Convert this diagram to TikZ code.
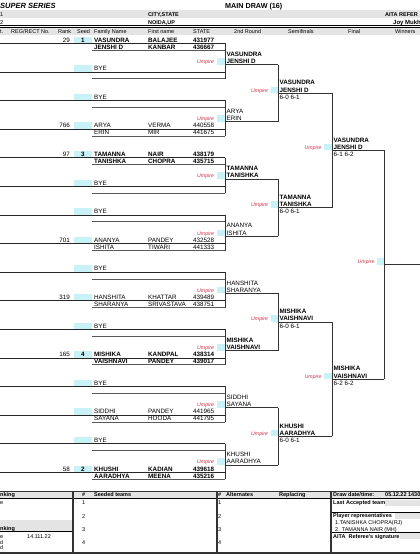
\documentclass[tikz,border=0pt]{standalone}
\usepackage{fontspec}
\setmainfont{Liberation Sans}
\definecolor{umpred}{RGB}{205,45,70}
\definecolor{seedcyan}{RGB}{200,242,246}
\definecolor{bandgrey}{RGB}{228,228,228}

\begin{document}
\begin{tikzpicture}[x=1pt, y=-1pt,
  declare function={yb(\k)=43.2+7.15*\k; tb(\k)=42.0+7.15*\k;},
  txt/.style={anchor=base west, inner sep=0pt, font=\fontsize{6.3}{7}\selectfont},
  hd/.style={anchor=base west, inner sep=0pt, font=\fontsize{5.5}{6}\selectfont},
  hdb/.style={hd, font=\fontsize{5.5}{6}\selectfont\bfseries},
  ump/.style={anchor=base west, inner sep=0pt, text=umpred, font=\fontsize{5.2}{6}\selectfont\itshape},
  rowline/.style={line width=0.6pt, black!85},
  rowlinetwo/.style={line width=1pt, black!65},
  brk/.style={line width=0.8pt, black!80},
  frame/.style={line width=1.2pt, black!80},
  seedbox/.style={fill=seedcyan},
  band/.style={fill=bandgrey}]
\useasboundingbox (0,0) rectangle (420,560);

% heading
\fill[band] (0,10) rectangle (420,18);
\fill[band] (0,28) rectangle (420,34.5);
\draw[line width=0.7pt] (0,25.6) -- (420,25.6);
\draw[line width=0.7pt] (0,27.1) -- (420,27.1);
\node[anchor=base west, inner sep=0pt, font=\fontsize{7.5}{8}\selectfont\bfseries\itshape] (title) at (0,8.3) {SUPER SERIES};
\node[anchor=base west, inner sep=0pt, font=\fontsize{7.2}{8}\selectfont\bfseries] (maindraw) at (225,8.3) {MAIN DRAW (16)};
\node[hd] (one) at (0,16.3) {1};
\node[hdb] (city) at (148,16.3) {CITY,STATE};
\node[hdb] (aita) at (385,16.3) {AITA REFER};
\node[hd] (two) at (0,24) {2};
\node[hdb] (noida) at (148,24) {NOIDA,UP};
\node[txt, font=\fontsize{6}{7}\selectfont\bfseries] (referee) at (393,24.6) {Joy Mukh};
\foreach \x/\h [count=\i] in {0/t., 11/{REG/RECT No.}, 58/Rank, 77/Seed, 94/Family Name,
    148/First name, 193/STATE, 234/2nd Round, 288/Semifinals, 348/Final, 395/Winners}
  \node[hd] (col\i) at (\x,33.2) {\h};

% first round slots
\foreach \s in {0,...,15} {
  \fill[seedbox] (74,{yb(4*\s)-6.6}) rectangle (92,{yb(4*\s)});
  \draw[rowline] (0,{yb(4*\s)}) -- (225,{yb(4*\s)});
  \draw[rowlinetwo] (92,{yb(4*\s+1)}) -- (225,{yb(4*\s+1)});
}
\foreach \s/\rk/\sd/\fa/\na/\sa/\fb/\nb/\sb/\wt in {
    0/29/1/VASUNDRA/BALAJEE/431977/JENSHI D/KANBAR/436667/\bfseries,
    3/766//ARYA/VERMA/440558/ERIN/MIR/441675/\mdseries,
    4/97/3/TAMANNA/NAIR/438179/TANISHKA/CHOPRA/435715/\bfseries,
    7/701//ANANYA/PANDEY/432528/ISHITA/TIWARI/441333/\mdseries,
    9/319//HANSHITA/KHATTAR/439489/SHARANYA/SRIVASTAVA/438751/\mdseries,
    11/165/4/MISHIKA/KANDPAL/438314/VAISHNAVI/PANDEY/439017/\bfseries,
    13///SIDDHI/PANDEY/441965/SAYANA/HOODA/441795/\mdseries,
    15/58/2/KHUSHI/KADIAN/439618/AARADHYA/MEENA/435216/\bfseries} {
  \node[txt, anchor=base east] (rank\s) at (70,{tb(4*\s)}) {\rk};
  \node[txt, anchor=base, font=\fontsize{6.3}{7}\selectfont\bfseries] (seed\s) at (83,{tb(4*\s)}) {\sd};
  \node[txt] (fama\s) at (94,{tb(4*\s)}) {\wt \fa};
  \node[txt] (firsta\s) at (148,{tb(4*\s)}) {\wt \na};
  \node[txt] (statea\s) at (193,{tb(4*\s)}) {\wt \sa};
  \node[txt] (famb\s) at (94,{tb(4*\s+1)}) {\wt \fb};
  \node[txt] (firstb\s) at (148,{tb(4*\s+1)}) {\wt \nb};
  \node[txt] (stateb\s) at (193,{tb(4*\s+1)}) {\wt \sb};
}
\foreach \s in {1,2,5,6,8,10,12,14}
  \node[txt] (bye\s) at (94,{tb(4*\s)}) {BYE};

% 2nd round
\foreach \m/\pa/\pb/\wt in {0/VASUNDRA/JENSHI D/\bfseries, 1/ARYA/ERIN/\mdseries,
    2/TAMANNA/TANISHKA/\bfseries, 3/ANANYA/ISHITA/\mdseries, 4/HANSHITA/SHARANYA/\mdseries,
    5/MISHIKA/VAISHNAVI/\bfseries, 6/SIDDHI/SAYANA/\mdseries, 7/KHUSHI/AARADHYA/\mdseries} {
  \draw[brk] (225,{yb(8*\m)}) -- (225,{yb(8*\m+5)});
  \draw[brk] (225,{yb(8*\m+3)}) -- (278,{yb(8*\m+3)});
  \fill[seedbox] (217,{yb(8*\m+3)-6.6}) rectangle (224.5,{yb(8*\m+3)});
  \node[ump] (umpa\m) at (197,{tb(8*\m+3)}) {Umpire};
  \node[txt] (secona\m) at (226.5,{tb(8*\m+2)}) {\wt \pa};
  \node[txt] (seconb\m) at (226.5,{tb(8*\m+3)}) {\wt \pb};
}

% semifinals
\foreach \q/\pa/\pb in {0/VASUNDRA/JENSHI D, 1/TAMANNA/TANISHKA, 2/MISHIKA/VAISHNAVI, 3/KHUSHI/AARADHYA} {
  \draw[brk] (278,{yb(16*\q+3)}) -- (278,{yb(16*\q+11)});
  \draw[brk] (278,{yb(16*\q+7)}) -- (332,{yb(16*\q+7)});
  \fill[seedbox] (270.5,{yb(16*\q+7)-6.6}) rectangle (277.5,{yb(16*\q+7)});
  \node[ump] (umpb\q) at (251,{tb(16*\q+7)}) {Umpire};
  \node[txt] (semia\q) at (279.5,{tb(16*\q+6)}) {\bfseries \pa};
  \node[txt] (semib\q) at (279.5,{tb(16*\q+7)}) {\bfseries \pb};
  \node[txt] (semis\q) at (279.5,{tb(16*\q+8)}) {6-0 6-1};
}

% final
\foreach \f/\pa/\pb/\sc in {0/VASUNDRA/JENSHI D/6-1 6-2, 1/MISHIKA/VAISHNAVI/6-2 6-2} {
  \draw[brk] (332,{yb(32*\f+7)}) -- (332,{yb(32*\f+23)});
  \draw[brk] (332,{yb(32*\f+15)}) -- (384,{yb(32*\f+15)});
  \fill[seedbox] (323.5,{yb(32*\f+15)-6.6}) rectangle (331.5,{yb(32*\f+15)});
  \node[ump] (umpc\f) at (304.5,{tb(32*\f+15)}) {Umpire};
  \node[txt] (finala\f) at (333.5,{tb(32*\f+14)}) {\bfseries \pa};
  \node[txt] (finalb\f) at (333.5,{tb(32*\f+15)}) {\bfseries \pb};
  \node[txt] (finals\f) at (333.5,{tb(32*\f+16)}) {\sc};
}

% winners
\draw[brk] (384,{yb(15)}) -- (384,{yb(47)});
\draw[brk] (384,{yb(31)}) -- (420,{yb(31)});
\fill[seedbox] (376.5,{yb(31)-6.6}) rectangle (383.5,{yb(31)});
\node[ump] (umpd) at (357.5,{tb(31)}) {Umpire};

% lower table
\fill[band] (0,491.5) rectangle (420,498.5);
\fill[band] (0,519.5) rectangle (72,531.5);
\fill[band] (385,499.5) rectangle (420,505.5);
\fill[band] (395,513) rectangle (420,519);
\fill[band] (400,533) rectangle (420,539);
\draw[line width=0.6pt] (0,498.5) -- (420,498.5);
\draw[line width=0.4pt] (0,531.5) -- (72,531.5);
\draw[line width=0.6pt] (331,512) -- (420,512);
\draw[line width=0.6pt] (331,532.5) -- (420,532.5);
\draw[frame] (0,491.5) -- (420,491.5);
\draw[frame] (0,553) -- (420,553);
\foreach \x in {73,217,331}
  \draw[frame] (\x,491.5) -- (\x,553);
\node[hdb] (rankhd) at (0,496.8) {nking};
\node[hd] (rankone) at (0,504.3) {e};
\node[hdb] (rankhdtwo) at (0,530.5) {nking};
\node[hd] (ranktwo) at (0,538) {e};
\node[hd] (rankdate) at (27,538) {14.111.22};
\node[hd] (rankthree) at (0,544) {d};
\node[hd] (rankfour) at (0,549.5) {d};
\node[hdb] (seedhash) at (82,496.8) {\#};
\node[hdb] (seedhd) at (94,496.8) {Seeded teams};
\node[hdb] (althash) at (218,496.8) {\#};
\node[hdb] (althd) at (226,496.8) {Alternates};
\node[hdb] (replhd) at (279,496.8) {Replacing};
\foreach \n/\y in {1/504.3, 2/518, 3/531.3, 4/544.7} {
  \node[hd] (seedno\n) at (82,\y) {\n};
  \node[hd] (altno\n) at (218,\y) {\n};
}
\node[hdb] (drawdate) at (333,496.8) {Draw date/time:};
\node[hdb] (drawtime) at (385,496.8) {05.12.22 1430};
\node[hdb] (lastacc) at (333,504.3) {Last Accepted team};
\node[hdb] (players) at (333,517.7) {Player representatives};
\node[hd] (playerone) at (335,524.3) {1.TANISHKA CHOPRA(RJ)};
\node[hd] (playertwo) at (335,531) {2. TAMANNA NAIR (MH)};
\node[hdb] (refsign) at (333,538) {AITA\ \ Referee's signature};
\end{tikzpicture}
\end{document}
